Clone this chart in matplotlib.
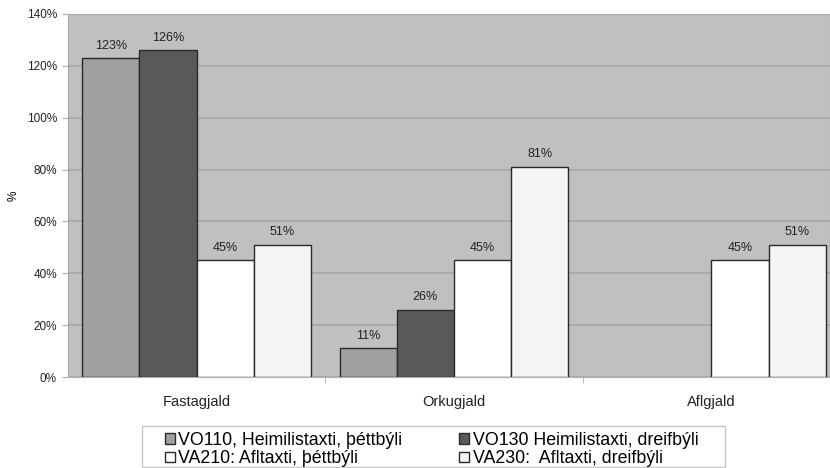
import numpy as np
import matplotlib.pyplot as plt
from matplotlib.patches import Rectangle

plt.rcParams['font.family'] = ['Liberation Sans', 'DejaVu Sans']

# Gögn lesin af myndinni
flokkar = ['Fastagjald', 'Orkugjald', 'Aflgjald']
vo110 = [123, 11, np.nan]
vo130 = [126, 26, np.nan]
va210 = [45, 45, 45]
va230 = [51, 81, 51]
heiti = ['VO110, Heimilistaxti, þéttbýli', 'VO130 Heimilistaxti, dreifbýli',
         'VA210: Afltaxti, þéttbýli', 'VA230:  Afltaxti, dreifbýli']
litir = ['#a0a0a0', '#595959', '#ffffff', '#f4f4f4']

fig = plt.figure(figsize=(8.3, 4.68), dpi=100)
ax = fig.add_axes([68 / 830, 1 - 377 / 468, (830 - 68) / 830, (377 - 14) / 468])
ax.set_facecolor('#c0c0c0')

x = np.arange(len(flokkar))
breidd = 57.25 / 257.5
rodir = [vo110, vo130, va210, va230]
handles = []
for i, (gildi, litur) in enumerate(zip(rodir, litir)):
    pos = x + (i - 1.5) * breidd
    b = ax.bar(pos, gildi, width=breidd, color=litur, edgecolor='#2a2a2a',
               linewidth=1.0, zorder=3)
    handles.append(b)
    for p, g in zip(pos, gildi):
        if not np.isnan(g):
            ax.text(p, g + 2.5, f'{g:.0f}%', ha='center', va='bottom',
                    fontsize=9, color='#222222', zorder=4)

ax.set_xlim(-0.5, 2.5 - 10 / 257.5)
ax.set_ylim(0, 140)
ax.set_yticks(np.arange(0, 141, 20))
ax.set_yticklabels([f'{v}%' for v in range(0, 141, 20)], fontsize=8.5, color='#222222')
ax.yaxis.grid(True, color='#a6a6a6', linewidth=1.2, zorder=0)
ax.set_axisbelow(True)

ax.set_xticks(x)
ax.set_xticklabels(flokkar, fontsize=10.5, color='#222222')
ax.set_xticks([0.5, 1.5], minor=True)
ax.tick_params(axis='x', which='major', length=0, pad=13)
ax.tick_params(axis='x', which='minor', length=4, color='#b0b0b0')
ax.tick_params(axis='y', length=4, color='#b0b0b0', pad=4)

for s in ['top', 'right', 'left']:
    ax.spines[s].set_color('#a8a8a8')
ax.spines['bottom'].set_color('#b0b0b0')

ax.set_ylabel('%', fontsize=8.5)
ax.yaxis.set_label_coords(-0.064, 0.5)

fig.legend([handles[0], handles[2], handles[1], handles[3]],
           [heiti[0], heiti[2], heiti[1], heiti[3]],
           ncol=2, loc='upper left', bbox_to_anchor=(165 / 830, 1 - 432 / 468),
           fontsize=12.8, frameon=False, borderpad=0, borderaxespad=0,
           handlelength=0.55, handleheight=0.55, handletextpad=0.2,
           columnspacing=3.2, labelspacing=0.08)
fig.patches.append(Rectangle((142 / 830, 1 - 467 / 468), (725 - 142) / 830, (467 - 426) / 468,
                             transform=fig.transFigure, facecolor='none',
                             edgecolor='#c8c8c8', linewidth=1.0))

fig.savefig('out.png', dpi=100)
